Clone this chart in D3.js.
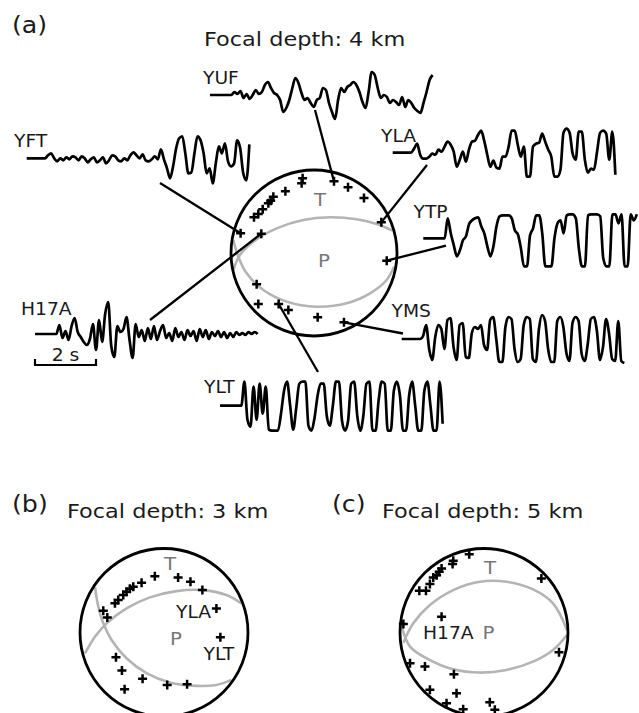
<html>
<script src='https://cdn.jsdelivr.net/npm/d3@7'></script>
<body style="margin:0;background:white;">
<svg id="fig" width="639" height="713"></svg>
<script>

// sample spacing of every trace (s) and amplitudes (relative, up positive)
const dt = 0.1;

const yufTrace = [0,0,0,0,0,0,0, 0,3,1,4,-3,1,-4,0,5,1,3,10,13,7,2,0,-5,-17,-13,-5,7,17,12,2,-5,-3,-8,-12,-5,-3,7,5,-8,-17,-24,-5,7,3,8,10,13,10,3,-7,-13,3,23,20,7,-3,0,-2,-8,-5,-7,-10,-2,-12,-5,-8,-13,-16,-18,-8,3,15,20];
const yftTrace = [0,0,0,0,0,0,0, 3,5,0,-3,0,-2,1,-1,2,1,-2,2,0,-4,-1,1,-4,-2,1,-5,-2,3,2,-2,-3,0,-2,3,6,3,0,4,-2,-3,-1,2,-1,9,-1,-10,-20,-8,10,20,22,5,-15,-14,5,22,18,5,-15,-10,-25,-5,12,5,15,-3,-8,-5,18,10,-15,-22,14];
const ylaTrace = [0,0,0,0,0,0,0, 4,9,-2,-6,-6,-4,-1,-2,3,1,6,11,8,1,-14,-7,1,-9,3,11,12,18,22,12,-2,-14,-8,-15,-16,-4,-4,6,22,22,8,-4,6,-24,-24,6,9,10,19,11,3,-4,-24,-24,-17,20,24,20,-1,-7,21,21,-7,-20,-16,-17,1,20,22,19,-7,21,-22];
const ytpTrace = [0,0,0,0,0,0,0, 0,20,5,-7,-18,-12,-2,2,14,18,20,21,12,5,-8,-18,-8,12,22,23,23,23,20,8,4,-10,-28,-28,3,10,23,23,5,-28,-28,-28,0,15,18,5,23,24,24,20,-10,-28,-28,23,24,24,24,22,-20,-28,-28,24,24,15,24,-28,-28,24,18,24];
const ymsTrace = [0,0,0,0,0,0,0, 3,14,-10,-21,2,14,10,-10,19,21,-8,-21,14,16,-18,-19,6,12,10,14,-6,-11,19,22,0,-23,-23,12,22,20,-10,-23,-20,14,22,20,-20,-23,10,24,18,-10,-23,-23,18,22,12,-14,-22,16,22,18,-15,-22,-5,20,22,8,-21,-8,20,5,-20,-22,18,-22,-24];
const h17aTrace = [0,0,0,0,0,0,0,0, 9,-4,3,-6,8,16,2,-3,-8,-11,-5,10,-16,14,-8,20,32,-12,-23,8,2,5,17,-6,-24,10,-3,4,-7,6,-5,8,-6,3,9,-4,1,-7,6,-3,2,-6,4,-2,3,-7,5,-3,4,-5,2,-2,3,-3,2,-4,1,-3,2,-1,1,-1,2,0,2,0];
const yltTrace = [0,0,0,0,0,0,0, 0,24,-14,-21,19,-14,22,-8,19,-24,-25,-25,-25,-8,15,24,0,-24,-2,22,24,24,-20,-25,-12,10,22,22,-10,-20,0,24,24,-15,-25,-15,22,24,-10,-25,-10,22,24,-25,-25,5,24,22,-25,-25,15,24,10,-25,-25,10,24,0,-25,-25,15,24,0,-25,-25,24,-18];

const scaleBarSeconds = 2;

// station positions on the projected focal sphere (unit circle, x right, y down)
const stationsA = [
  [-0.137,-0.900,""],[-0.149,-0.839,""],[0.241,-0.863,"YUF"],[0.410,-0.791,""],[0.602,-0.663,""],
  [-0.345,-0.743,""],[-0.490,-0.679,""],[-0.522,-0.631,""],[-0.550,-0.598,""],[-0.618,-0.526,""],
  [-0.671,-0.470,""],[-0.723,-0.430,""],[-0.884,-0.237,"YFT"],[-0.635,-0.233,"H17A"],[0.811,-0.369,"YLA"],
  [0.876,0.092,"YTP"],[-0.691,0.378,""],[-0.671,0.614,""],[-0.426,0.614,"YLT"],[-0.309,0.687,""],
  [0.044,0.775,""],[0.361,0.835,"YMS"]
];
const stationsB = [
  [-0.109,-0.671],[0.168,-0.655],[0.315,-0.604],[0.457,-0.505],[0.624,-0.287],[0.671,0.057],
  [-0.267,-0.592],[-0.366,-0.545],[-0.406,-0.521],[-0.446,-0.485],[-0.485,-0.446],[-0.545,-0.386],
  [-0.584,-0.347],[-0.723,-0.259],[-0.675,-0.180],[-0.572,0.295],[-0.501,0.453],[-0.255,0.552],
  [-0.469,0.675],[0.038,0.624],[0.275,0.616]
];
const stationsC = [
  [-0.176,-0.933],[-0.366,-0.853],[-0.374,-0.814],[-0.505,-0.762],[-0.533,-0.723],[-0.564,-0.683],
  [-0.604,-0.655],[-0.644,-0.576],[-0.691,-0.497],[-0.770,-0.497],[0.683,-0.644],[-0.960,-0.101],
  [-0.505,-0.188],[-0.881,0.366],[-0.703,0.406],[-0.358,0.497],[-0.644,0.683],[-0.327,0.723],
  [-0.446,0.842],[-0.248,0.913],[0.069,0.830],[0.129,0.921],[0.893,0.236]
];

// nodal planes, same projection
const planeA1 = [[-0.972,0.205],[-0.892,0.024],[-0.731,-0.137],[-0.450,-0.297],[-0.129,-0.398],[0.193,-0.430],[0.514,-0.406],[0.755,-0.349],[0.948,-0.269]];
const planeA2 = [[-0.972,-0.157],[-0.912,0.044],[-0.811,0.245],[-0.610,0.446],[-0.329,0.586],[0.032,0.647],[0.394,0.606],[0.675,0.486],[0.875,0.325],[0.964,0.165]];
const planeB1 = [[-0.822,-0.545],[-0.782,-0.307],[-0.723,-0.109],[-0.624,0.089],[-0.446,0.307],[-0.208,0.485],[0.069,0.596],[0.386,0.636],[0.624,0.624],[0.802,0.564]];
const planeB2 = [[-0.941,0.248],[-0.822,0.050],[-0.683,-0.109],[-0.446,-0.287],[-0.168,-0.418],[0.149,-0.493],[0.465,-0.505],[0.743,-0.446],[0.921,-0.347]];
const planeC1 = [[-0.960,0.121],[-0.842,-0.109],[-0.644,-0.327],[-0.366,-0.505],[-0.050,-0.604],[0.267,-0.604],[0.584,-0.513],[0.822,-0.347],[0.988,-0.030]];
const planeC2 = [[-0.980,-0.069],[-0.881,0.168],[-0.683,0.307],[-0.366,0.438],[-0.050,0.477],[0.267,0.446],[0.584,0.347],[0.822,0.208],[0.988,0.030]];

const panelLetters = ["(a)", "(b)", "(c)"];
const depthsKm = [4, 3, 5];

// ---------------- drawing ----------------

const svg = d3.select("#fig");
const font = "DejaVu Sans, Verdana, sans-serif";
const pxPerSecond = 30.5;
const gain = 1;

function txt(x, y, s, size, fill, anchor, stretch) {
    svg.append("text")
        .attr("transform", `translate(${x},${y}) scale(${stretch || 1.1},1)`)
        .attr("font-family", font)
        .attr("font-size", size)
        .attr("fill", fill || "#1a1a1a")
        .attr("text-anchor", anchor || "start")
        .text(s);
}

function beachball(cx, cy, r, planes, stations) {
    const xs = d3.scaleLinear().domain([-1, 1]).range([cx - r, cx + r]);
    const ys = d3.scaleLinear().domain([-1, 1]).range([cy - r, cy + r]);
    const line = d3.line().x(d => xs(d[0])).y(d => ys(d[1])).curve(d3.curveCatmullRom);
    planes.forEach(p => {
        svg.append("path").attr("d", line(p))
            .attr("fill", "none").attr("stroke", "#b4b4b4").attr("stroke-width", 2.6);
    });
    svg.append("circle").attr("cx", cx).attr("cy", cy).attr("r", r)
        .attr("fill", "none").attr("stroke", "black").attr("stroke-width", 2.8);
    svg.append("g").selectAll("path")
        .data(stations).enter().append("path")
        .attr("d", d => `M${xs(d[0]) - 4.5},${ys(d[1])}h9M${xs(d[0])},${ys(d[1]) - 4.5}v9`)
        .attr("stroke", "black").attr("stroke-width", 2.5);
    return { xs, ys };
}

// panel (a)
txt(12, 33, panelLetters[0], 23);
txt(204, 46, `Focal depth: ${depthsKm[0]} km`, 19.5, null, null, 1.15);

const ballA = beachball(314, 253, 83, [planeA1, planeA2], stationsA);
txt(320, 206, "T", 18, "#777", "middle");
txt(324, 267, "P", 18, "#777", "middle");

const traces = [
    { name: "YUF",  data: yufTrace,  x0: 210,   y0: 95,    lx: 203,   ly: 83.5,  link: [315, 110] },
    { name: "YFT",  data: yftTrace,  x0: 26.7,  y0: 158.3, lx: 14,    ly: 146.5, link: [160, 183] },
    { name: "YLA",  data: ylaTrace,  x0: 392.7, y0: 152.7, lx: 381,   ly: 141.5, link: [427, 165] },
    { name: "YTP",  data: ytpTrace,  x0: 423.3, y0: 238.3, lx: 413.5, ly: 218.3, link: [446, 245.7] },
    { name: "YMS",  data: ymsTrace,  x0: 401.7, y0: 339,   lx: 391.5, ly: 317.3, link: [403, 333.5] },
    { name: "H17A", data: h17aTrace, x0: 35,    y0: 334,   lx: 21,    ly: 315,   link: [150, 320] },
    { name: "YLT",  data: yltTrace,  x0: 220,   y0: 405.7, lx: 204,   ly: 393.3, link: [318, 372] }
];

traces.forEach(t => {
    const x = d3.scaleLinear().domain([0, 1]).range([t.x0, t.x0 + pxPerSecond]);
    const y = d3.scaleLinear().domain([-30, 30]).range([t.y0 + 30 * gain, t.y0 - 30 * gain]);
    const line = d3.line().x((d, i) => x(i * dt)).y(d => y(d)).curve(d3.curveMonotoneX);
    svg.append("path").attr("d", line(t.data))
        .attr("fill", "none").attr("stroke", "black")
        .attr("stroke-width", 2.7).attr("stroke-linejoin", "round");
    txt(t.lx, t.ly, t.name, 17);

    const st = stationsA.find(s => s[2] === t.name);
    svg.append("line")
        .attr("x1", t.link[0]).attr("y1", t.link[1])
        .attr("x2", ballA.xs(st[0])).attr("y2", ballA.ys(st[1]))
        .attr("stroke", "black").attr("stroke-width", 2.3);
});

// time scale bar under H17A
const tb = d3.scaleLinear().domain([0, 1]).range([35, 35 + pxPerSecond]);
svg.append("path")
    .attr("d", `M${tb(0)},359V365H${tb(scaleBarSeconds)}V359`)
    .attr("fill", "none").attr("stroke", "black").attr("stroke-width", 2.2);
txt(tb(scaleBarSeconds / 2), 360.5, `${scaleBarSeconds} s`, 17, "#1a1a1a", "middle");

// panel (b)
txt(12, 511.5, panelLetters[1], 23);
txt(67, 517.5, `Focal depth: ${depthsKm[1]} km`, 19.5, null, null, 1.15);
beachball(164, 632.5, 84, [planeB1, planeB2], stationsB);
txt(170, 570, "T", 18, "#777", "middle");
txt(176, 645, "P", 18, "#777", "middle");
txt(176, 617.5, "YLA", 17);
txt(203.5, 660, "YLT", 17);

// panel (c)
txt(332, 511.5, panelLetters[2], 23);
txt(382, 517.5, `Focal depth: ${depthsKm[2]} km`, 19.5, null, null, 1.15);
beachball(484, 632.5, 84, [planeC1, planeC2], stationsC);
txt(490, 573.5, "T", 18, "#777", "middle");
txt(488.5, 638.5, "P", 18, "#777", "middle");
txt(423, 638.5, "H17A", 17);

</script>
</body>
</html>
